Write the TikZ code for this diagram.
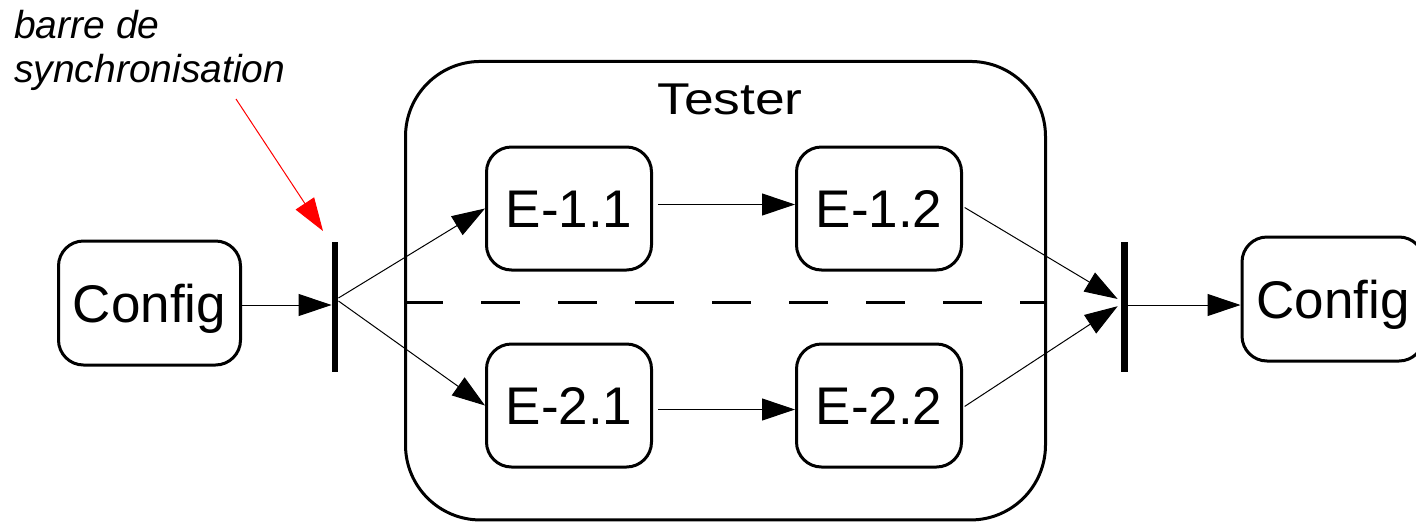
\documentclass[tikz,border=0pt]{standalone}
\usepackage{fontspec}
\setmainfont{Liberation Sans}
\usetikzlibrary{arrows.meta}
\begin{document}
\begin{tikzpicture}[x=1pt,y=-1pt,
  box/.style={draw, line width=3pt, rounded corners=25pt, inner sep=0pt,
    text height=38pt, text depth=0pt, font=\fontsize{53}{60}\selectfont},
  cfgbox/.style={box, minimum width=182pt, minimum height=124pt},
  ebox/.style={box, minimum width=165pt, minimum height=123pt},
  syncbar/.style={fill=black, draw=none, inner sep=0pt, minimum width=6.5pt, minimum height=130pt},
  arr/.style={line width=1pt, -{Triangle[length=33pt,width=22pt]}},
  redarr/.style={red, line width=1pt, -{Triangle[length=33pt,width=22pt]}},
  lbl/.style={inner sep=0pt, font=\itshape\fontsize{39}{44}\selectfont}]
\useasboundingbox (0,0) rectangle (1416,523);

% container
\node[draw, line width=3pt, rounded corners=75pt, minimum width=640pt, minimum height=458.5pt, inner sep=0pt] (tester) at (725.5,290.7) {};
\node[anchor=base, inner sep=0pt, font=\fontsize{44.5}{50}\selectfont] (testerlbl) at (730,114) {\scalebox{1.2}[1]{Tester}};
\draw[line width=3pt, dash pattern=on 39pt off 38pt] (tester.west |- 0,302) coordinate (dashA) -- (tester.east |- 0,302) coordinate (dashB);

% nodes
\node[cfgbox] (cfgL) at (149.5,303) {Config};
\node[cfgbox] (cfgR) at (1333,299) {Config};
\node[syncbar] (barL) at (335,307) {};
\node[syncbar] (barR) at (1124.5,307) {};
\node[ebox] (e11) at (569,208.5) {E-1.1};
\node[ebox] (e12) at (879,208.5) {E-1.2};
\node[ebox] (e21) at (569,405.5) {E-2.1};
\node[ebox] (e22) at (879,405.5) {E-2.2};

% label
\node[lbl, anchor=base west] (lab1) at (14,38) {barre de};
\node[lbl, anchor=base west] (lab2) at (14,82) {synchronisation};
\coordinate (redtail) at (236,99);
\coordinate (redtip) at (323,231);
\draw[redarr] (redtail) -- (redtip);

% connectors
\draw[arr] ([yshift=-2pt]cfgL.east) -- ([yshift=-2pt]cfgL.east -| barL.west);
\draw[arr] ([yshift=9pt]barL.east) -- (e11.west);
\draw[arr] ([yshift=6pt]barL.east) -- (e21.west);
\draw[arr, shorten <=5pt] ([yshift=4pt]e11.east) -- ([yshift=4pt]e12.west);
\draw[arr, shorten <=5pt] ([yshift=-4pt]e21.east) -- ([yshift=-4pt]e22.west);
\draw[arr, shorten <=2pt, shorten >=4pt] ([yshift=2pt]e12.east) -- ([yshift=6pt]barR.west);
\draw[arr, shorten <=2pt, shorten >=4pt] ([yshift=-2pt]e22.east) -- ([yshift=3pt]barR.west);
\draw[arr] ([yshift=2pt]barR.east) -- ([yshift=2pt]barR.east -| cfgR.west);
\end{tikzpicture}
\end{document}
